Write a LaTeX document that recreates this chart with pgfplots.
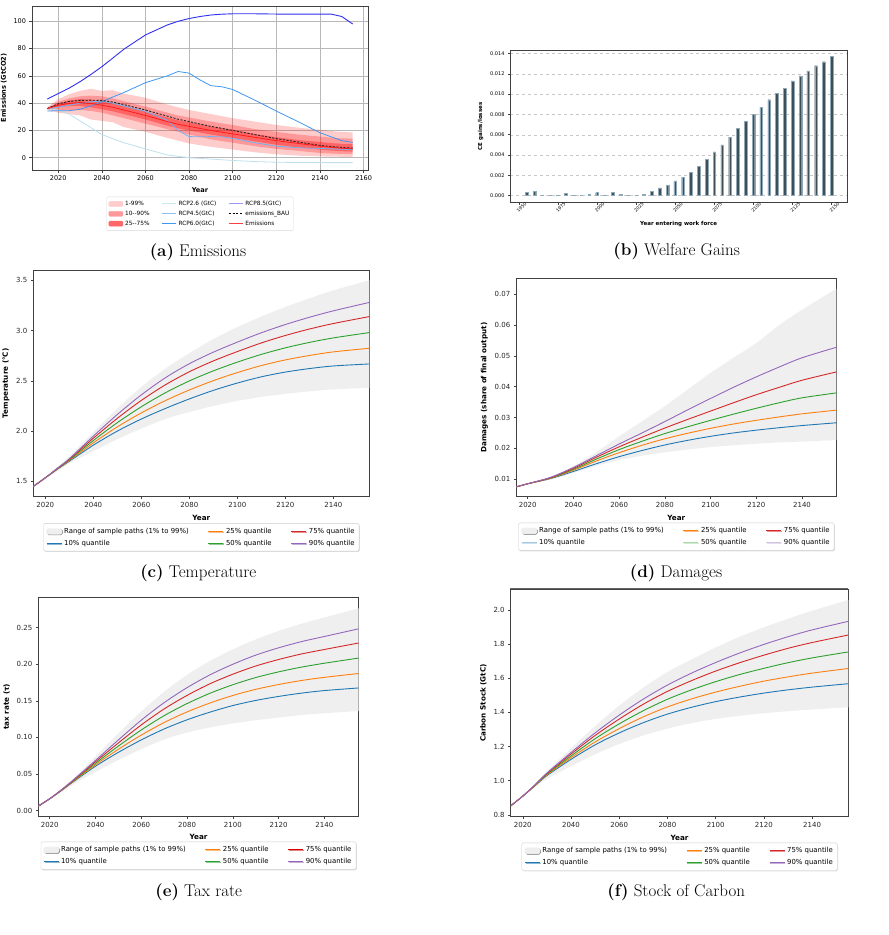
\documentclass[border=0pt]{standalone}
\usepackage{fontspec}
\usepackage{pgfplots}
\usepackage{pgfplotstable}
\pgfplotsset{compat=1.18}
\usepgfplotslibrary{fillbetween}
\usetikzlibrary{shadows}
\newfontfamily\dv{DejaVu Sans}
\definecolor{tabblue}{HTML}{1F77B4}
\definecolor{taborange}{HTML}{FF7F0E}
\definecolor{tabgreen}{HTML}{2CA02C}
\definecolor{tabred}{HTML}{D62728}
\definecolor{tabpurple}{HTML}{9467BD}
\definecolor{bandgray}{HTML}{EFEFEF}
\definecolor{rcpA}{HTML}{BFE0EC}
\definecolor{rcpB}{HTML}{72B2F2}
\definecolor{rcpC}{HTML}{3E97F2}
\definecolor{rcpD}{HTML}{3030F0}
\definecolor{rcpAl}{HTML}{C8E8F0}
\definecolor{rcpBl}{HTML}{8CC0F5}
\definecolor{rcpDl}{HTML}{9A9AF8}
\definecolor{bandA}{HTML}{FFCCCC}
\definecolor{bandB}{HTML}{FF9999}
\definecolor{bandC}{HTML}{FF6868}
\definecolor{emred}{HTML}{FF1A1A}
\definecolor{barfill}{HTML}{3F4F58}
\definecolor{baredge}{HTML}{8FA9B8}

\pgfplotsset{
  mpl/.style={scale only axis, anchor=north west,
    axis line style={black!75, line width=0.6pt},
    tick align=outside, major tick length=2.5pt,
    every tick/.style={black!75, line width=0.5pt},
    tick pos=left,
    /pgf/number format/assume math mode=true,
    /pgf/number format/set thousands separator={},
    scaled ticks=false,
    legend cell align=left,
  },
  qpanel/.style={mpl, xmin=2015, xmax=2155, xtick={2020,2040,...,2140},
    tick label style={font=\dv\fontsize{7}{8}\selectfont, black!85},
    label style={font=\dv\bfseries\fontsize{7.2}{8}\selectfont},
    xlabel={Year},
    legend image code/.code={\draw[##1] (0pt,0pt) -- (15pt,0pt);},
    legend columns=3,
    legend style={anchor=north, draw=black!20, rounded corners=1.5pt, fill=white,
      font=\dv\fontsize{6.9}{8}\selectfont, inner sep=2.5pt,
      drop shadow={shadow xshift=0.8pt, shadow yshift=-0.8pt, fill=black!25},
      /tikz/every even column/.append style={column sep=17pt}, row sep=1.2pt},
  },
}

\newcommand{\qplots}[1]{%
  \addplot[draw=none, name path=lo, forget plot, smooth] table[x=year,y=lo]{#1};
  \addplot[draw=none, name path=hi, forget plot, smooth] table[x=year,y=hi]{#1};
  \addplot[fill=bandgray, draw=none, forget plot] fill between[of=lo and hi];
  \addplot[tabblue, line width=0.9pt, smooth, forget plot] table[x=year,y=q10]{#1};
  \addplot[taborange, line width=0.9pt, smooth, forget plot] table[x=year,y=q25]{#1};
  \addplot[tabgreen, line width=0.9pt, smooth, forget plot] table[x=year,y=q50]{#1};
  \addplot[tabred, line width=0.9pt, smooth, forget plot] table[x=year,y=q75]{#1};
  \addplot[tabpurple, line width=0.9pt, smooth, forget plot] table[x=year,y=q90]{#1};
}

\pgfplotstableread{
year p1 p99 p10 p90 p25 p75 med bau r26 r45 r60 r85
2015 35 37 35.5 36.5 35.8 36.2 36 36 36 36 34.2 43
2020 33 43 35 41 37 40 38.5 39.5 35 37 34.5 47
2025 32 46.5 35 43.5 37.8 41.8 39.8 41.3 32 38.5 34.5 51
2030 31 49 35 45 38 43 40.5 42 27 40 35.5 55.7
2035 28 50.5 34.3 45.5 37 42.5 39.8 42.2 22 41 38 61
2040 27 49 33 45 35.5 41.5 38.5 42 17 41.5 41 66.7
2045 26 49.5 31 43.5 34 40 37 40.8 14 40 44.5 73
2050 22.5 47 29 41.5 32 38 35 39 11 38 47.7 79.4
2060 19 44 25 37.5 28 34 31 35 6.5 34 55 90
2070 14.5 39 21 33 23.5 29.5 26.5 30.5 2 27.5 60 97.3
2075 12.5 37 19 31 21.5 27.5 24.5 28.2 1 20 63.2 100
2080 10.5 35 17 29.5 20 26 23 26.5 0 15.5 62 102
2085 9.2 33.5 15.2 28 18.5 24.5 21.5 24.7 -0.5 15.3 57 103.5
2090 8 32 13.5 26.5 17 23 20 23 -1 15.5 52.8 104.6
2095 7 30.5 12.2 25.2 15.7 21.7 18.7 21.5 -1.5 15.3 52 105.2
2100 6 29 11 24 14.5 20.5 17.5 20 -2 14.2 50 105.5
2110 4 26.5 8.5 21 12 17.5 15 17 -2.8 11 42.3 105.5
2120 2.5 24 6.5 19 9.5 15 12.5 14 -3.3 8.5 34.2 105.3
2130 1.5 22 5 17 7.5 13 10.5 11.5 -3.5 7.3 26.4 105.3
2140 1 20.5 3.5 15.5 6 11.5 8.5 9 -3.6 6.8 18.3 105.3
2145 0.8 19.5 3.1 14.7 5.3 10.7 7.7 8.2 -3.6 6.5 15.4 105.3
2150 0.7 19 2.8 14.2 4.8 10.2 7 7.5 -3.6 6.2 12.5 103.5
2155 0.7 18.5 2.7 14 4.5 10 6.5 7 -3.6 6 11.2 98
}\tabA

\pgfplotstableread{
year lo hi q10 q25 q50 q75 q90
2015 1.45 1.45 1.45 1.45 1.45 1.45 1.45
2020 1.533 1.537 1.535 1.535 1.535 1.535 1.535
2025 1.60 1.645 1.62 1.6226 1.625 1.628 1.63
2030 1.68 1.75 1.70 1.706 1.713 1.719 1.725
2040 1.80 1.99 1.86 1.883 1.906 1.929 1.95
2050 1.92 2.225 2.0 2.042 2.084 2.127 2.165
2060 2.025 2.44 2.12 2.181 2.242 2.305 2.36
2070 2.12 2.62 2.225 2.303 2.381 2.46 2.53
2080 2.19 2.775 2.32 2.409 2.499 2.59 2.67
2090 2.25 2.915 2.405 2.502 2.599 2.698 2.785
2100 2.30 3.035 2.478 2.582 2.686 2.791 2.885
2110 2.34 3.14 2.54 2.652 2.763 2.877 2.978
2120 2.37 3.235 2.587 2.708 2.828 2.951 3.06
2130 2.395 3.32 2.622 2.752 2.882 3.015 3.132
2140 2.415 3.40 2.648 2.788 2.927 3.07 3.196
2155 2.43 3.50 2.668 2.824 2.98 3.139 3.28
}\tabC

\pgfplotstableread{
year lo hi q10 q25 q50 q75 q90
2015 0.0075 0.0075 0.0075 0.0075 0.0075 0.0075 0.0075
2020 0.0085 0.0085 0.0085 0.0085 0.0085 0.0085 0.0085
2030 0.0098 0.0107 0.0102 0.0103 0.0104 0.0105 0.0106
2040 0.0120 0.0142 0.0125 0.0129 0.0132 0.0135 0.0138
2050 0.0143 0.0188 0.0150 0.0159 0.0165 0.0171 0.0176
2060 0.0162 0.0239 0.0173 0.0186 0.0196 0.0205 0.0214
2070 0.0176 0.0288 0.0193 0.0210 0.0223 0.0236 0.0250
2080 0.0187 0.0337 0.0211 0.0231 0.0248 0.0266 0.0287
2090 0.0196 0.0391 0.0226 0.0249 0.0270 0.0294 0.0325
2100 0.0204 0.0445 0.0239 0.0265 0.0291 0.0321 0.0362
2110 0.0210 0.0494 0.0250 0.0279 0.0311 0.0348 0.0398
2120 0.0215 0.0542 0.0259 0.0291 0.0330 0.0374 0.0432
2130 0.0219 0.0600 0.0267 0.0302 0.0348 0.0398 0.0464
2140 0.0222 0.0650 0.0274 0.0312 0.0364 0.0421 0.0494
2155 0.0227 0.0718 0.0283 0.0324 0.0380 0.0448 0.0528
}\tabD

\pgfplotstableread{
year lo hi q10 q25 q50 q75 q90
2015 0.006 0.006 0.006 0.006 0.006 0.006 0.006
2020 0.0155 0.0165 0.016 0.016 0.016 0.016 0.016
2025 0.025 0.029 0.027 0.0272 0.0275 0.0278 0.028
2030 0.035 0.0425 0.0385 0.0391 0.0398 0.0404 0.041
2040 0.053 0.074 0.0605 0.0625 0.0645 0.0666 0.0685
2050 0.069 0.1055 0.0795 0.0837 0.0881 0.0924 0.0965
2060 0.084 0.1355 0.0965 0.1031 0.1101 0.1170 0.1235
2070 0.097 0.1625 0.1115 0.1203 0.1297 0.1389 0.1475
2080 0.1065 0.1855 0.124 0.1348 0.1462 0.1574 0.168
2090 0.1135 0.2045 0.1345 0.147 0.1603 0.1733 0.1855
2100 0.119 0.2205 0.1435 0.1573 0.172 0.1864 0.2
2110 0.1235 0.234 0.1505 0.1657 0.1818 0.1976 0.2125
2120 0.127 0.2455 0.156 0.1723 0.1896 0.2065 0.2225
2130 0.1305 0.2555 0.1605 0.1778 0.1961 0.2141 0.231
2140 0.133 0.264 0.164 0.1821 0.2014 0.2202 0.238
2155 0.136 0.2765 0.1676 0.1874 0.2085 0.2291 0.2485
}\tabE

\pgfplotstableread{
year lo hi q10 q25 q50 q75 q90
2015 0.853 0.853 0.853 0.853 0.853 0.853 0.853
2020 0.908 0.912 0.91 0.91 0.91 0.91 0.91
2025 0.96 0.98 0.97 0.971 0.9725 0.974 0.975
2030 1.01 1.055 1.03 1.034 1.038 1.042 1.045
2040 1.085 1.19 1.125 1.135 1.145 1.156 1.165
2050 1.155 1.32 1.21 1.227 1.246 1.265 1.28
2060 1.215 1.44 1.28 1.305 1.333 1.361 1.384
2070 1.265 1.545 1.34 1.374 1.410 1.448 1.478
2080 1.305 1.637 1.39 1.432 1.477 1.523 1.56
2090 1.337 1.71 1.43 1.479 1.532 1.586 1.63
2100 1.362 1.78 1.463 1.519 1.58 1.642 1.692
2110 1.38 1.843 1.49 1.553 1.622 1.691 1.748
2120 1.395 1.898 1.513 1.583 1.658 1.735 1.798
2130 1.407 1.948 1.532 1.608 1.691 1.775 1.843
2140 1.417 1.995 1.548 1.630 1.719 1.809 1.883
2155 1.43 2.058 1.568 1.657 1.754 1.853 1.933
}\tabF

\begin{document}
\begin{tikzpicture}

% ---------------- (a) Emissions ----------------
\begin{axis}[mpl, at={(32pt,-6pt)}, width=336pt, height=164pt,
  xmin=2008, xmax=2162, ymin=-9, ymax=111.2,
  xtick={2020,2040,...,2160}, ytick={0,20,...,100},
  grid=major, grid style={black!28, line width=0.6pt},
  tick label style={font=\dv\fontsize{6.5}{7.5}\selectfont},
  label style={font=\dv\bfseries\fontsize{6.6}{7.5}\selectfont},
  xlabel={Year}, ylabel={Emissions (GtCO2)},
  legend columns=3,
  legend image code/.code={\draw[#1] (0pt,0pt) -- (14pt,0pt);},
  legend style={at={(0.5,-0.163)}, anchor=north, draw=black!15, rounded corners=1pt,
    font=\dv\fontsize{5.8}{7}\selectfont, inner sep=2pt,
    /tikz/every even column/.append style={column sep=10pt}, row sep=0pt},
]
\addplot[draw=none, name path=p1, forget plot] table[x=year,y=p1]{\tabA};
\addplot[draw=none, name path=p99, forget plot] table[x=year,y=p99]{\tabA};
\addplot[draw=none, name path=p10, forget plot] table[x=year,y=p10]{\tabA};
\addplot[draw=none, name path=p90, forget plot] table[x=year,y=p90]{\tabA};
\addplot[draw=none, name path=p25, forget plot] table[x=year,y=p25]{\tabA};
\addplot[draw=none, name path=p75, forget plot] table[x=year,y=p75]{\tabA};
\addplot[fill=red, fill opacity=0.2, draw=none, forget plot] fill between[of=p1 and p99];
\addplot[fill=red, fill opacity=0.25, draw=none, forget plot] fill between[of=p10 and p90];
\addplot[fill=red, fill opacity=0.35, draw=none, forget plot] fill between[of=p25 and p75];
\addplot[rcpA, line width=0.8pt, forget plot] table[x=year,y=r26]{\tabA};
\addplot[rcpB, line width=0.8pt, forget plot] table[x=year,y=r45]{\tabA};
\addplot[rcpC, line width=0.8pt, forget plot] table[x=year,y=r60]{\tabA};
\addplot[rcpD, line width=0.9pt, forget plot] table[x=year,y=r85]{\tabA};
\addplot[black!85, line width=0.9pt, dash pattern=on 2.2pt off 1.4pt, forget plot] table[x=year,y=bau]{\tabA};
\addplot[emred, line width=0.8pt, forget plot] table[x=year,y=med]{\tabA};
\addlegendimage{legend image code/.code={\fill[bandA] (0pt,-2.5pt) rectangle (14pt,2.5pt);}}
\addlegendentry{1-99\%}
\addlegendimage{rcpAl, line width=1.1pt}
\addlegendentry{RCP2.6 (GtC)}
\addlegendimage{rcpDl, line width=1.1pt}
\addlegendentry{RCP8.5(GtC)}
\addlegendimage{legend image code/.code={\fill[bandB] (0pt,-2.5pt) rectangle (14pt,2.5pt);}}
\addlegendentry{10--90\%}
\addlegendimage{rcpBl, line width=1.1pt}
\addlegendentry{RCP4.5(GtC)}
\addlegendimage{black, line width=1pt, dash pattern=on 2.2pt off 1.4pt}
\addlegendentry{emissions\_BAU}
\addlegendimage{legend image code/.code={\fill[bandC] (0pt,-2.5pt) rectangle (14pt,2.5pt);}}
\addlegendentry{25--75\%}
\addlegendimage{rcpC, line width=1.1pt}
\addlegendentry{RCP6.0(GtC)}
\addlegendimage{red!75, line width=1.1pt}
\addlegendentry{Emissions}
\end{axis}

% ---------------- (b) Welfare gains ----------------
\begin{axis}[mpl, at={(510pt,-50pt)}, width=337.3pt, height=152.7pt,
  xmin=1944.4, xmax=2160, ymin=-0.0007, ymax=0.01435,
  xtick={1950,1975,...,2150},
  ytick={0,0.002,0.004,0.006,0.008,0.010,0.012,0.014},
  yticklabel style={/pgf/number format/.cd, fixed, fixed zerofill, precision=3},
  tick label style={font=\dv\fontsize{5}{6}\selectfont},
  xticklabel style={rotate=45, anchor=center, yshift=-4pt, font=\dv\fontsize{4.5}{5}\selectfont},
  ymajorgrids, grid style={dashed, black!22, line width=0.4pt},
  major tick length=2pt,
  label style={font=\dv\bfseries\fontsize{5.5}{6.5}\selectfont},
  xlabel={Year entering work force}, ylabel={CE gains/losses},
]
\addplot[ybar, bar width=2.6pt, fill=barfill, draw=baredge, line width=0.3pt] coordinates {
(1955,0.0003) (1960,0.0004) (1965,0.00005) (1970,0.00005) (1975,0.00005)
(1980,0.0002) (1985,0.00003) (1990,0.00003) (1995,0.0001) (2000,0.0003)
(2005,0.00005) (2010,0.0003) (2015,0.0001) (2020,0.00003) (2025,0.00005)
(2030,0.00013) (2035,0.0004) (2040,0.00075) (2045,0.001) (2050,0.00144)
(2055,0.00183) (2060,0.0023) (2065,0.0029) (2070,0.0036) (2075,0.0043)
(2080,0.0050) (2085,0.00576) (2090,0.0066) (2095,0.0073) (2100,0.0080)
(2105,0.0087) (2110,0.00945) (2115,0.0101) (2120,0.0106) (2125,0.0113)
(2130,0.0118) (2135,0.0123) (2140,0.0128) (2145,0.0132) (2150,0.0137)};
\end{axis}

% ---------------- (c) Temperature ----------------
\begin{axis}[qpanel, at={(33.3pt,-270pt)}, width=336pt, height=226.7pt,
  ymin=1.3475, ymax=3.6025, ytick={1.5,2.0,2.5,3.0,3.5},
  yticklabel style={/pgf/number format/.cd, fixed, fixed zerofill, precision=1},
  ylabel={Temperature (°C)},
  legend style={at={(0.5,-0.117)}},
]
\qplots{\tabC}
\addlegendimage{legend image code/.code={\fill[bandgray] (0pt,-2.8pt) rectangle (15pt,2.8pt);}}
\addlegendentry{Range of sample paths (1\% to 99\%)}
\addlegendimage{taborange, line width=1.2pt}\addlegendentry{25\% quantile}
\addlegendimage{tabred, line width=1.2pt}\addlegendentry{75\% quantile}
\addlegendimage{tabblue, line width=1.2pt}\addlegendentry{10\% quantile}
\addlegendimage{tabgreen, line width=1.2pt}\addlegendentry{50\% quantile}
\addlegendimage{tabpurple, line width=1.2pt}\addlegendentry{90\% quantile}
\end{axis}

% ---------------- (d) Damages ----------------
\begin{axis}[qpanel, at={(516.3pt,-278.3pt)}, width=320pt, height=218.4pt,
  ymin=0.0043, ymax=0.0752, ytick={0.01,0.02,0.03,0.04,0.05,0.06,0.07},
  yticklabel style={/pgf/number format/.cd, fixed, fixed zerofill, precision=2},
  ylabel={Damages (share of final output)},
  legend style={at={(0.5,-0.119)}},
]
\qplots{\tabD}
\addlegendimage{legend image code/.code={\fill[bandgray] (0pt,-2.8pt) rectangle (15pt,2.8pt);}}
\addlegendentry{Range of sample paths (1\% to 99\%)}
\addlegendimage{taborange, line width=1.2pt}\addlegendentry{25\% quantile}
\addlegendimage{tabred, line width=1.2pt}\addlegendentry{75\% quantile}
\addlegendimage{tabblue!40, line width=1.2pt}\addlegendentry{10\% quantile}
\addlegendimage{tabgreen!40, line width=1.2pt}\addlegendentry{50\% quantile}
\addlegendimage{tabpurple!40, line width=1.2pt}\addlegendentry{90\% quantile}
\end{axis}

% ---------------- (e) Tax rate ----------------
\begin{axis}[qpanel, at={(38.3pt,-597.3pt)}, width=320.4pt, height=218.7pt,
  ymin=-0.0076, ymax=0.2916, ytick={0,0.05,0.10,0.15,0.20,0.25},
  yticklabel style={/pgf/number format/.cd, fixed, fixed zerofill, precision=2},
  ylabel={tax rate (τ)},
  legend style={at={(0.5,-0.1175)}},
]
\qplots{\tabE}
\addlegendimage{legend image code/.code={\fill[bandgray] (0pt,-2.8pt) rectangle (15pt,2.8pt);}}
\addlegendentry{Range of sample paths (1\% to 99\%)}
\addlegendimage{taborange, line width=1.2pt}\addlegendentry{25\% quantile}
\addlegendimage{red!85!black, line width=1.2pt}\addlegendentry{75\% quantile}
\addlegendimage{tabblue, line width=0.6pt}\addlegendentry{10\% quantile}
\addlegendimage{tabgreen, line width=0.6pt}\addlegendentry{50\% quantile}
\addlegendimage{tabpurple, line width=0.6pt}\addlegendentry{90\% quantile}
\end{axis}

% ---------------- (f) Stock of carbon ----------------
\begin{axis}[qpanel, at={(510.7pt,-589.3pt)}, width=337.6pt, height=227.4pt,
  ymin=0.7895, ymax=2.1205, ytick={0.8,1.0,1.2,1.4,1.6,1.8,2.0},
  yticklabel style={/pgf/number format/.cd, fixed, fixed zerofill, precision=1},
  ylabel={Carbon Stock (GtC)},
  legend style={at={(0.5,-0.114)}},
]
\qplots{\tabF}
\addlegendimage{legend image code/.code={\fill[bandgray] (0pt,-2.8pt) rectangle (15pt,2.8pt);}}
\addlegendentry{Range of sample paths (1\% to 99\%)}
\addlegendimage{taborange, line width=1.2pt}\addlegendentry{25\% quantile}
\addlegendimage{tabred, line width=1.2pt}\addlegendentry{75\% quantile}
\addlegendimage{tabblue, line width=1.2pt}\addlegendentry{10\% quantile}
\addlegendimage{tabgreen, line width=1.2pt}\addlegendentry{50\% quantile}
\addlegendimage{tabpurple, line width=1.2pt}\addlegendentry{90\% quantile}
\end{axis}

% ---------------- captions ----------------
\begin{scope}[every node/.style={anchor=base, font=\fontsize{17}{20}\selectfont, inner sep=0pt}]
\node at (198pt,-256.7pt) {\textbf{(a)} Emissions};
\node at (676.7pt,-255pt) {\textbf{(b)} Welfare Gains};
\node at (198.3pt,-577pt) {\textbf{(c)} Temperature};
\node at (676pt,-577pt) {\textbf{(d)} Damages};
\node at (198.7pt,-896pt) {\textbf{(e)} Tax rate};
\node at (676.2pt,-896pt) {\textbf{(f)} Stock of Carbon};
\end{scope}
\draw[black!60, line width=0.6pt] (510pt,-588.3pt) -- (848pt,-588.3pt);
\pgfresetboundingbox
\useasboundingbox (0pt,0pt) rectangle (889pt,-935pt);
\end{tikzpicture}
\end{document}
